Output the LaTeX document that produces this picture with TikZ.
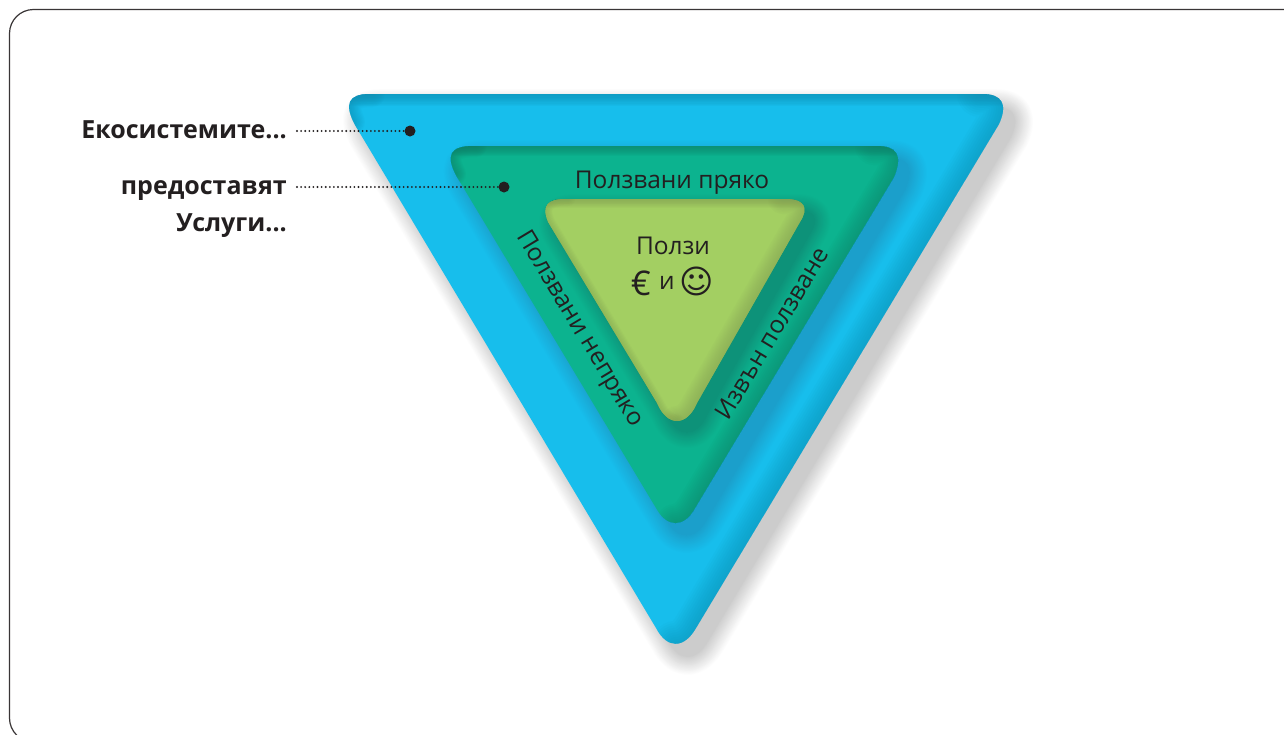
\documentclass[tikz,border=0pt]{standalone}
\usepackage{fontspec}
\setmainfont{Open Sans}
\newfontfamily\symfont{DejaVu Sans}
\definecolor{ink}{HTML}{231F20}
\definecolor{blueB}{HTML}{17BEEC}
\definecolor{blueD}{HTML}{0F8CAF}
\definecolor{blueS}{HTML}{1B9FCB}
\definecolor{greenB}{HTML}{0CB38F}
\definecolor{greenD}{HTML}{0B8068}
\definecolor{greenS}{HTML}{0D9279}
\definecolor{limeB}{HTML}{A3CF62}
\definecolor{limeD}{HTML}{84A054}
\definecolor{shadowG}{HTML}{CCCCCC}
\def\outerp{(370,94) -- (982,94) .. controls (1002,94) and (1008,104) .. (999,124) -- (696,628) .. controls (684,649) and (667,649) .. (656,628) -- (355,125) .. controls (344,104) and (348,94) .. (370,94) -- cycle}
\def\outerR{(980,94) .. controls (1002,94) and (1008,104) .. (999,124) -- (696,628) .. controls (688,642) and (680,644) .. (675,644)}
\def\outerL{(352,122) .. controls (344,104) and (348,94) .. (372,94)}
\def\greenp{(474,146) -- (876,146) .. controls (897,146) and (903,155) .. (894,177) -- (695,508) .. controls (684,528) and (667,528) .. (656,508) -- (457,177) .. controls (445,155) and (450,146) .. (474,146) -- cycle}
\def\greenR{(874,146) .. controls (897,146) and (903,155) .. (894,177) -- (695,508) .. controls (688,520) and (680,523) .. (675,523)}
\def\greenL{(455,174) .. controls (445,155) and (450,146) .. (476,146)}
\def\limep{(566,199) -- (785,199) .. controls (805,199) and (809,208) .. (800,222) -- (697,403) .. controls (687,427) and (667,427) .. (657,403) -- (548,222) .. controls (541,205) and (548,199) .. (566,199) -- cycle}
\def\limeR{(783,199) .. controls (805,199) and (809,208) .. (800,222) -- (697,403) .. controls (690,418) and (682,421) .. (677,421)}
\def\limeL{(677,421) .. controls (670,421) and (663,416) .. (657,403) -- (548,222) .. controls (541,205) and (548,199) .. (568,199)}
\newcommand\softshadow[5][16]{%
  \foreach \i in {0,...,#1} {%
    \pgfmathtruncatemacro\p{100*\i/#1}%
    \pgfmathsetmacro\wd{max(0.05,#5*(#1-\i)/#1)}%
    \path[fill=#4!\p!#3, draw=#4!\p!#3, line width=\wd pt, line join=round] #2;
  }}
\newcommand\softstroke[4]{%
  \foreach \i in {1,...,10} {%
    \pgfmathsetmacro\wd{#3*\i/10}%
    \draw[draw=#2, line width=\wd pt, draw opacity=#4, line join=round, line cap=round] #1;
  }}
\tikzset{
  boldlabel/.style={font=\fontsize{25}{29}\selectfont\bfseries, text=ink, anchor=base east, inner sep=0pt},
  plainlabel/.style={font=\fontsize{24.5}{28}\selectfont, text=ink, inner sep=0pt},
  dotend/.style={circle, fill=ink, minimum size=11pt, inner sep=0pt},
  dotline/.style={draw=ink, line width=2.1pt, line cap=round, dash pattern=on 0pt off 4.1pt},
  framebox/.style={draw=ink!90, line width=1.2pt, rounded corners=24pt}
}
\begin{document}
\begin{tikzpicture}[x=1pt,y=-1pt]
\useasboundingbox (0,0) rectangle (1284,734);
\clip (0,0) rectangle (1284,734);
\fill[white] (0,0) rectangle (1284,734);
\draw[framebox] (9.5,742) -- (9.5,9.5) -- (1310,9.5) -- (1310,742) -- cycle;
% outer shadow on the page
\begin{scope}[shift={(12,13)}]
  \softshadow{\outerp}{white}{shadowG}{38}
\end{scope}
% outer triangle
\fill[blueB] \outerp;
\begin{scope}
  \clip \outerp;
  \begin{scope}[shift={(11,12)}]
    \softshadow{\greenp}{blueB}{blueS}{38}
  \end{scope}
  \softstroke{(345,94) -- (1005,94)}{blueD}{24}{0.085}
  \softstroke{\outerR}{blueD}{46}{0.06}
  \softstroke{\outerL}{blueD}{26}{0.07}
\end{scope}
% middle triangle
\fill[greenB] \greenp;
\begin{scope}
  \clip \greenp;
  \begin{scope}[shift={(10,11)}]
    \softshadow{\limep}{greenB}{greenS}{34}
  \end{scope}
  \softstroke{(445,146) -- (900,146)}{greenD}{20}{0.09}
  \softstroke{\greenR}{greenD}{38}{0.06}
  \softstroke{\greenL}{greenD}{22}{0.08}
\end{scope}
% inner triangle
\fill[limeB] \limep;
\begin{scope}
  \clip \limep;
  \softstroke{(540,199) -- (810,199)}{limeD}{18}{0.085}
  \softstroke{\limeR}{limeD}{30}{0.065}
  \softstroke{\limeL}{limeD}{14}{0.05}
\end{scope}
% texts
\node[boldlabel] (lab1) at (287,138) {Екосистемите...};
\node[boldlabel] (lab2) at (287,194) {предоставят};
\node[boldlabel] (lab3) at (287,231) {Услуги...};
\node[dotend] (dot1) at (410,131) {};
\node[dotend] (dot2) at (504,187) {};
\coordinate (st1) at (297,131);
\coordinate (st2) at (297,187);
\draw[dotline] (st1) -- (dot1);
\draw[dotline] (st2) -- (dot2);
\node[plainlabel] (direct) at (672,183) {Ползвани пряко};
\node[plainlabel, rotate=-59] (indirect) at (579,329) {Ползвани непряко};
\node[plainlabel, rotate=59] (nonuse) at (772,333) {Извън ползване};
\node[plainlabel] (benefit) at (673,246) {Ползи};
\node[plainlabel] (euro) at (641,283) {\fontsize{34}{34}\selectfont €};
\node[plainlabel] (and) at (667,283) {и};
\node[plainlabel] (smile) at (697,281) {\symfont\fontsize{33}{33}\selectfont ☺};
\end{tikzpicture}
\end{document}
